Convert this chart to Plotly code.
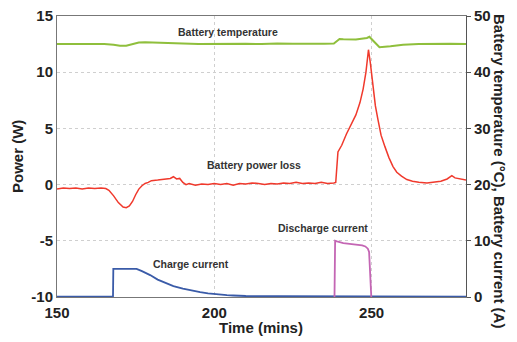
import plotly.graph_objects as go

# Battery power loss (W), left axis
loss_t = [150, 152, 154, 156, 158, 160, 162, 164, 165.5, 166.5, 168, 169.5, 171, 172, 173, 174, 175,
          176, 177, 178, 179, 180, 182, 184, 186, 187, 188, 189, 190, 191, 192, 194, 196, 198, 200,
          202, 204, 206, 208, 210, 212, 214, 216, 218, 220, 222, 224, 226, 228, 230, 232, 234, 236,
          238, 238.6, 239.3, 240.5, 242, 243.5, 245, 246.3, 247.3, 248.2, 249, 249.6, 250.4, 251.2,
          252, 253, 254.2, 255.5, 256.8, 258, 259.5, 261.2, 263, 265, 267.6, 270, 272, 274, 275.5,
          276.5, 278, 280]
loss_w = [-0.4, -0.3, -0.35, -0.3, -0.4, -0.3, -0.35, -0.3, -0.35, -0.5, -1.0, -1.6, -2.0, -2.05,
          -1.9, -1.5, -0.9, -0.4, -0.1, 0.1, 0.2, 0.35, 0.4, 0.5, 0.55, 0.7, 0.5, 0.55, 0.2, 0.0, 0.1,
          -0.05, 0.05, 0.0, 0.1, 0.0, 0.1, -0.05, 0.1, 0.05, 0.15, 0.1, 0.0, 0.1, 0.05, 0.15, 0.1, 0.2,
          0.1, 0.15, 0.1, 0.2, 0.1, 0.15, 0.2, 2.9, 3.5, 4.5, 5.3, 6.2, 7.3, 8.5, 10.0, 12.0, 10.8,
          8.7, 7.0, 5.8, 4.4, 3.4, 2.4, 1.6, 1.1, 0.75, 0.45, 0.3, 0.2, 0.15, 0.2, 0.3, 0.5, 0.8, 0.6,
          0.5, 0.4]

# Battery temperature (°C), right axis
temp_t = [150, 155, 160, 165, 168, 170, 172, 174, 176, 178, 180, 185, 190, 195, 200, 205, 210, 215,
          220, 225, 230, 235, 238, 239.8, 241, 245, 248.5, 249.3, 250.5, 252.5, 256, 260, 265, 270,
          275, 280]
temp_c = [45.0, 45.0, 45.05, 45.0, 44.9, 44.7, 44.7, 45.0, 45.3, 45.35, 45.3, 45.1, 45.1, 45.0,
          45.05, 45.0, 45.05, 45.0, 45.1, 45.05, 45.0, 45.05, 45.1, 45.9, 45.85, 45.8, 46.1, 46.3,
          45.6, 44.45, 44.6, 44.9, 45.0, 45.05, 45.05, 45.0]

# Charge current (A), right axis
chg_t = [150, 167.8, 167.9, 175.3, 177, 179.6, 182, 184.9, 187, 190, 193, 195.5, 198, 200.8, 204,
         206, 208, 210, 220, 230, 238.3, 238.4, 280]
chg_a = [0.05, 0.05, 5.0, 5.0, 4.6, 3.9, 3.1, 2.4, 1.95, 1.5, 1.1, 0.85, 0.65, 0.47, 0.33, 0.27,
         0.2, 0.18, 0.15, 0.15, 0.15, 0.05, 0.05]

# Discharge current (A), right axis
dis_t = [238.2, 238.4, 239, 241, 243, 245, 247, 248, 248.8, 249.2, 249.6, 249.9]
dis_a = [0.0, 10.0, 9.9, 9.6, 9.45, 9.35, 9.2, 9.0, 8.6, 8.0, 4.0, 0.0]

x_ticks = [150, 200, 250]
power_ticks = [-10, -5, 0, 5, 10, 15]
power_labels = ["-10", "-5", "0", "5", "10", "15"]

FONT = "Liberation Sans"
W, H = 517, 342
ML, MR, MT, MB = 57, 51, 16, 45
plot_w = W - ML - MR
plot_h = H - MT - MB


def px_x(px):
    """Page pixel column -> paper x."""
    return (px - ML) / plot_w


def px_y(py):
    """Page pixel row -> paper y."""
    return (H - MB - py) / plot_h


fig = go.Figure()
fig.add_trace(go.Scatter(x=temp_t, y=temp_c, yaxis="y2", mode="lines",
                         line=dict(color="#8fbf3c", width=2)))
fig.add_trace(go.Scatter(x=chg_t, y=chg_a, yaxis="y2", mode="lines",
                         line=dict(color="#3a5ba8", width=1.8)))
fig.add_trace(go.Scatter(x=dis_t, y=dis_a, yaxis="y2", mode="lines",
                         line=dict(color="#c466b4", width=1.8)))
fig.add_trace(go.Scatter(x=loss_t, y=loss_w, mode="lines",
                         line=dict(color="#f0392c", width=1.5)))

label_font = dict(family=FONT, size=10.5, color="#333333", weight="bold")
annotations = [
    dict(x=204.4, y=13.58, text="Battery temperature"),
    dict(x=212.6, y=1.7, text="Battery power loss"),
    dict(x=192.6, y=-7.07, text="Charge current"),
    dict(x=234.5, y=-3.88, text="Discharge current"),
]
for a in annotations:
    a.update(xref="x", yref="y", showarrow=False, font=label_font)

title_font = dict(family=FONT, size=15, color="#222222", weight="bold")
# Axis titles
for text, cx, cy, angle in [
    ("Time (mins)", 261, 327, 0),
    ("Power (W)", 17, 157, -90),
    ("Battery temperature (°C), Battery current (A)", 500, 171, 90),
]:
    annotations.append(dict(x=px_x(cx), y=px_y(cy), xref="paper", yref="paper",
                            xanchor="center", yanchor="middle", text=text,
                            textangle=angle, showarrow=False, font=title_font))

tick_font = dict(family=FONT, size=15, color="#222222", weight="bold")

fig.update_layout(
    width=W, height=H,
    margin=dict(l=ML, r=MR, t=MT, b=MB),
    paper_bgcolor="white", plot_bgcolor="white",
    showlegend=False,
    xaxis=dict(range=[150, 280], tickvals=x_ticks, tickfont=tick_font, automargin=False,
               showgrid=True, gridcolor="#cfcfcf", griddash="dot", gridwidth=1,
               showline=True, linecolor="#777777", linewidth=1, mirror=True,
               ticks="", zeroline=False, ticklabelstandoff=2),
    yaxis=dict(range=[-10, 15], tickvals=power_ticks, ticktext=power_labels, tickfont=tick_font,
               automargin=False,
               showgrid=True, gridcolor="#cfcfcf", griddash="dot", gridwidth=1,
               showline=True, linecolor="#777777", linewidth=1,
               ticks="", zeroline=False),
    yaxis2=dict(range=[0, 50], dtick=10, tickfont=tick_font, overlaying="y", side="right",
                automargin=False,
                showgrid=False, zeroline=False, showline=True, linecolor="#555555",
                linewidth=1, ticks="outside", ticklen=4, tickcolor="#555555"),
    annotations=annotations,
)

fig.write_html("out.html")
